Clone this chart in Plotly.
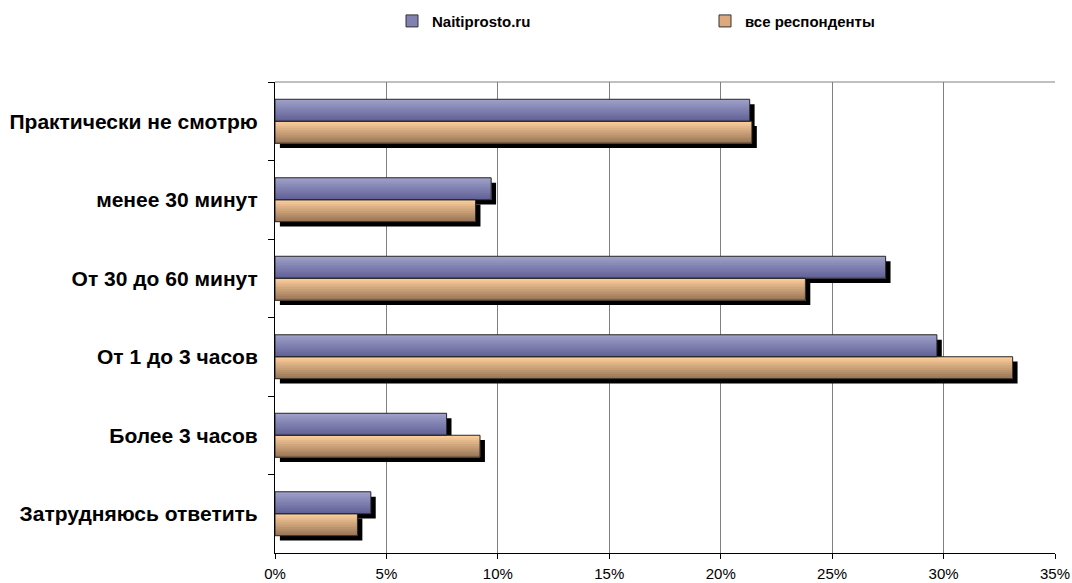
import plotly.graph_objects as go

categories = ["Практически не смотрю", "менее 30 минут", "От 30 до 60 минут",
              "От 1 до 3 часов", "Более 3 часов", "Затрудняюсь ответить"]
naiti = [21.3, 9.7, 27.4, 29.7, 7.7, 4.3]
all_resp = [21.4, 9.0, 23.8, 33.1, 9.2, 3.7]
series_names = ["Naitiprosto.ru", "все респонденты"]

FONT = "Arial, Liberation Sans, sans-serif"
W = 0.28           # bar thickness (category units)
SH_Y = 0.062       # shadow offset (category units)
SH_X = 0.22        # shadow offset (% units)
N_BANDS = 10

def lerp(c1, c2, t):
    return "rgb(%d,%d,%d)" % tuple(round(a + (b - a) * t) for a, b in zip(c1, c2))

grad = {
    0: ((158, 158, 200), (98, 98, 152)),
    1: ((250, 204, 154), (156, 120, 88)),
}
legend_col = {0: "#8282b2", 1: "#dcaa7c"}

fig = go.Figure()
data = [naiti, all_resp]
offsets = [-W, 0.0]

# shadows
for i, vals in enumerate(data):
    fig.add_trace(go.Bar(
        y=categories, x=vals, base=SH_X, orientation="h",
        width=W, offset=offsets[i] + SH_Y,
        marker=dict(color="black", line=dict(width=0)),
        showlegend=False, hoverinfo="skip"))

# gradient bands (each band extends to the bar's bottom, later ones cover lower part)
for i, vals in enumerate(data):
    c_top, c_bot = grad[i]
    bw = W / N_BANDS
    for k in range(N_BANDS):
        t = k / (N_BANDS - 1)
        fig.add_trace(go.Bar(
            y=categories, x=vals, orientation="h",
            width=W - k * bw, offset=offsets[i] + k * bw,
            marker=dict(color=lerp(c_top, c_bot, t), line=dict(width=0)),
            showlegend=False, hoverinfo="skip"))

# outlines + legend entries
for i, vals in enumerate(data):
    fig.add_trace(go.Bar(
        y=categories, x=vals, orientation="h",
        width=W, offset=offsets[i],
        marker=dict(color="rgba(0,0,0,0)", line=dict(color="#262626", width=1)),
        name=series_names[i], showlegend=False))
    fig.add_trace(go.Bar(
        y=[None], x=[None], orientation="h", name=series_names[i],
        marker=dict(color=legend_col[i], line=dict(color="#333333", width=1)),
        showlegend=True))

fig.update_layout(
    width=1072, height=583,
    barmode="overlay",
    plot_bgcolor="white", paper_bgcolor="white",
    margin=dict(l=275, r=17, t=82, b=30, autoexpand=False),
    font=dict(family=FONT, color="black"),
    legend=dict(orientation="h", x=0.15, xanchor="left", y=0.992, yref="container",
                yanchor="top", font=dict(size=15, family=FONT, weight="bold"),
                entrywidth=268, itemwidth=30, traceorder="normal"),
    xaxis=dict(range=[0, 35], dtick=5, ticksuffix="%", showgrid=True,
               gridcolor="#808080", gridwidth=1, zeroline=False, automargin=False,
               showline=True, linecolor="black", linewidth=1,
               ticks="outside", ticklen=5, tickcolor="black",
               tickfont=dict(size=15, family=FONT), ticklabelstandoff=2),
    yaxis=dict(type="category", autorange="reversed", showgrid=False, automargin=False,
               showline=True, linecolor="black", linewidth=1,
               ticks="outside", ticklen=6, tickcolor="black", tickson="boundaries",
               tickfont=dict(size=21, family=FONT, weight="bold"),
               ticklabelstandoff=12),
    shapes=[dict(type="line", xref="x domain", yref="y domain",
                 x0=0, x1=1, y0=1, y1=1, line=dict(color="#808080", width=1))],
)

fig.write_html("out.html", config={"displayModeBar": False},
               post_script="document.body.style.margin='0px';")
